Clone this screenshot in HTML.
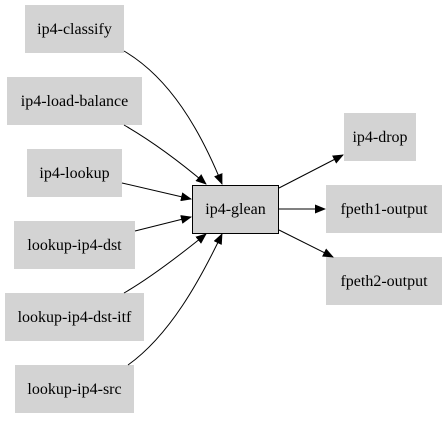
<!DOCTYPE html>
<html><head><meta charset="utf-8"><style>
body{margin:0;background:#fff}
</style></head><body>
<svg width="448" height="419" viewBox="0 0 448 419" xmlns="http://www.w3.org/2000/svg" font-family="Liberation Serif, serif" font-size="16">
<defs><marker id="a" markerWidth="11" markerHeight="9" refX="10" refY="4.5" orient="auto" markerUnits="userSpaceOnUse"><path d="M0,0 L11,4.5 L0,9 z" fill="#000"/></marker></defs>
<g fill="#d3d3d3">
<rect x="25" y="5" width="99" height="48"/>
<rect x="7" y="77" width="135" height="48"/>
<rect x="27" y="149" width="95" height="48"/>
<rect x="14" y="221" width="121" height="48"/>
<rect x="5" y="293" width="139" height="48"/>
<rect x="15" y="365" width="119" height="48"/>
<rect x="344" y="113" width="72" height="48"/>
<rect x="326" y="185" width="116" height="48"/>
<rect x="326" y="257" width="116" height="48"/>
</g>
<rect x="192.5" y="185.5" width="86" height="48" fill="#d3d3d3" stroke="#000" stroke-width="1"/>
<g fill="none" stroke="#000" stroke-width="1" marker-end="url(#a)">
<path d="M124,51 C170,78 200,130 222,184"/>
<path d="M124,125 C150,140 180,162 206,184"/>
<path d="M122,183 L191,199"/>
<path d="M135,231 L191,217"/>
<path d="M124,293 C150,278 180,255 206,234"/>
<path d="M128,365 C170,335 200,280 222,234"/>
<path d="M279,188 L343,155"/>
<path d="M279,209 L325,209"/>
<path d="M279,230 L333,257"/>
</g>
<g text-anchor="middle" fill="#000">
<text x="74.5" y="34">ip4-classify</text>
<text x="74.5" y="106">ip4-load-balance</text>
<text x="74.5" y="178">ip4-lookup</text>
<text x="74.5" y="250">lookup-ip4-dst</text>
<text x="74.5" y="322">lookup-ip4-dst-itf</text>
<text x="74.5" y="394">lookup-ip4-src</text>
<text x="235.5" y="214">ip4-glean</text>
<text x="380" y="142">ip4-drop</text>
<text x="384" y="214">fpeth1-output</text>
<text x="384" y="286">fpeth2-output</text>
</g>
</svg>
</body></html>
